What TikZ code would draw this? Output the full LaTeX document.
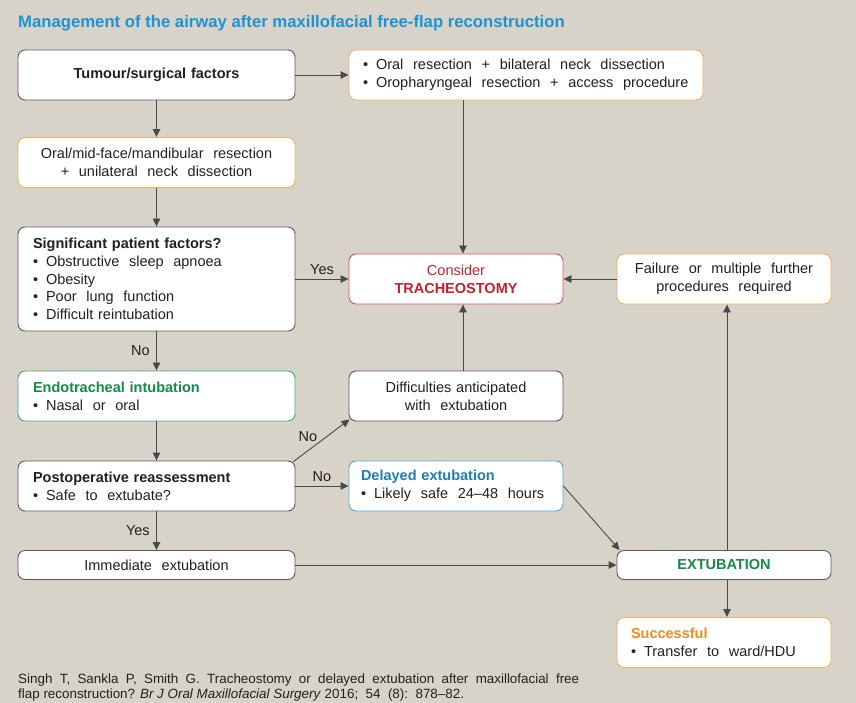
\documentclass[tikz,border=0pt]{standalone}
\usepackage{fontspec}
\setmainfont{Liberation Sans}
\usetikzlibrary{arrows.meta}
\definecolor{bg}{HTML}{D7D3C9}
\definecolor{txt}{HTML}{231F20}
\definecolor{gline}{HTML}{4A4A4A}
\definecolor{gbord}{HTML}{5A5A5A}
\definecolor{obord}{HTML}{F0B060}
\definecolor{rbord}{HTML}{D85060}
\definecolor{grbord}{HTML}{40A878}
\definecolor{bbord}{HTML}{50A8D0}
\definecolor{titleblue}{HTML}{1E92D2}
\definecolor{tred}{HTML}{C8202E}
\definecolor{tgreen}{HTML}{17894A}
\definecolor{tblue}{HTML}{1A7FB4}
\definecolor{torange}{HTML}{F08A1E}
\newcommand{\bodyfs}{\fontsize{14.5}{17.7}\selectfont}
\newcommand{\bul}{\textbullet\hspace{8pt}}
\tikzset{
  box/.style={draw=gbord, fill=white, rounded corners=7pt, line width=0.9pt,
    inner xsep=15pt, inner ysep=2pt, font=\bodyfs, text=txt},
  lcol/.style={minimum width=277pt, text width=247pt},
  mcol/.style={minimum width=214pt, text width=184pt},
  ob/.style={draw=obord},
  rb/.style={draw=rbord},
  gb/.style={draw=grbord},
  bb/.style={draw=bbord},
  conn/.style={draw=gline, line width=0.9pt, -{Triangle[length=8pt,width=7.5pt]}},
  lbl/.style={font=\bodyfs, text=txt}
}
\begin{document}
\begin{tikzpicture}[x=1pt,y=-1pt]
\useasboundingbox[fill=bg] (0,0) rectangle (856,703);

\node[anchor=base west, font=\fontsize{16.7}{19}\selectfont\bfseries, text=titleblue, inner sep=0pt] (title) at (18,28)
  {Management of the airway after maxillofacial free-flap reconstruction};

\node[box, lcol, minimum height=50pt, align=center] (tum) at (156.5,75) {\textbf{Tumour/surgical factors}};
\node[box, ob, minimum width=354pt, text width=326pt, inner xsep=14pt, minimum height=50pt, align=left] (oral) at (526,75)
  {\bul Oral\ \ resection\ \ +\ \ bilateral\ \ neck\ \ dissection\\
   \bul Oropharyngeal\ \ resection\ \ +\ \ access\ \ procedure};
\node[box, ob, lcol, minimum height=50pt, align=center] (mid) at (156.5,162.5)
  {Oral/mid-face/mandibular\ \ resection\\ +\ \ unilateral\ \ neck\ \ dissection};
\node[box, lcol, minimum height=104pt, align=left] (pat) at (156.5,279)
  {\textbf{Significant patient factors?}\\
   \bul Obstructive\ \ sleep\ \ apnoea\\
   \bul Obesity\\
   \bul Poor\ \ lung\ \ function\\
   \bul Difficult reintubation};
\node[box, rb, mcol, minimum height=50pt, align=center] (cons) at (456,279)
  {\textcolor{tred}{Consider}\\ \textcolor{tred}{\textbf{TRACHEOSTOMY}}};
\node[box, ob, mcol, minimum height=50pt, align=center] (fail) at (724,279)
  {Failure\ \ or\ \ multiple\ \ further\\ procedures\ \ required};
\node[box, gb, lcol, minimum height=50pt, align=left] (endo) at (156.5,396)
  {\textcolor{tgreen}{\textbf{Endotracheal intubation}}\\ \bul Nasal\ \ or\ \ oral};
\node[box, mcol, minimum height=50pt, align=center] (diff) at (456,396)
  {Difficulties anticipated\\ with\ \ extubation};
\node[box, lcol, minimum height=50pt, align=left] (post) at (156.5,486)
  {\textbf{Postoperative reassessment}\\ \bul Safe\ \ to\ \ extubate?};
\node[box, bb, mcol, inner xsep=12pt, text width=190pt, minimum height=50pt, align=left] (del) at (456,486)
  {\textcolor{tblue}{\textbf{Delayed extubation}}\\ \bul Likely\ \ safe\ \ 24--48\ \ hours};
\node[box, lcol, minimum height=29pt, align=center] (imm) at (156.5,565) {Immediate\ \ extubation};
\node[box, mcol, minimum height=29pt, align=center] (ext) at (724,565) {\textcolor{tgreen}{\textbf{EXTUBATION}}};
\node[box, ob, mcol, inner xsep=14pt, text width=186pt, minimum height=50pt, align=left] (succ) at (724,642.5)
  {\textcolor{torange}{\textbf{Successful}}\\ \bul Transfer\ \ to\ \ ward/HDU};

\node[anchor=base west, inner sep=0pt, text width=561pt, align=justify, font=\fontsize{13.4}{15}\selectfont, text=txt] (cite) at (18,683)
  {Singh T, Sankla P, Smith G. Tracheostomy or delayed extubation after maxillofacial free\linebreak
   flap reconstruction? \textit{Br J Oral Maxillofacial Surgery} 2016;\ \ 54\ \ (8):\ \ 878--82.};

\coordinate (cx) at (463,0);
\draw[conn] (tum.east) -- (oral.west);
\draw[conn] (tum.south) -- (mid.north);
\draw[conn] (mid.south) -- (pat.north);
\draw[conn] (oral.south -| cx) -- (cons.north -| cx);
\draw[conn] (pat.east) -- node[lbl, above=1pt] {Yes} (cons.west);
\draw[conn] (fail.west) -- (cons.east);
\draw[conn] (pat.south) -- node[lbl, left=3pt] {No} (endo.north);
\draw[conn] (endo.south) -- (post.north);
\draw[conn] (diff.north -| cx) -- (cons.south -| cx);
\draw[conn] ([shift={(-2,1)}]post.north east) -- node[lbl, anchor=south east, inner sep=1pt, pos=0.45] {No} ([shift={(1,-2)}]diff.south west);
\draw[conn] (post.east) -- node[lbl, above=1pt] {No} (del.west);
\draw[conn] (post.south) -- node[lbl, left=3pt] {Yes} (imm.north);
\draw[conn] (imm.east) -- (ext.west);
\draw[conn] (del.east) -- ([xshift=3pt]ext.north west);
\draw[conn] ([xshift=3pt]ext.north) -- ([xshift=3pt]fail.south);
\draw[conn] ([xshift=3pt]ext.south) -- ([xshift=3pt]succ.north);
\end{tikzpicture}
\end{document}
